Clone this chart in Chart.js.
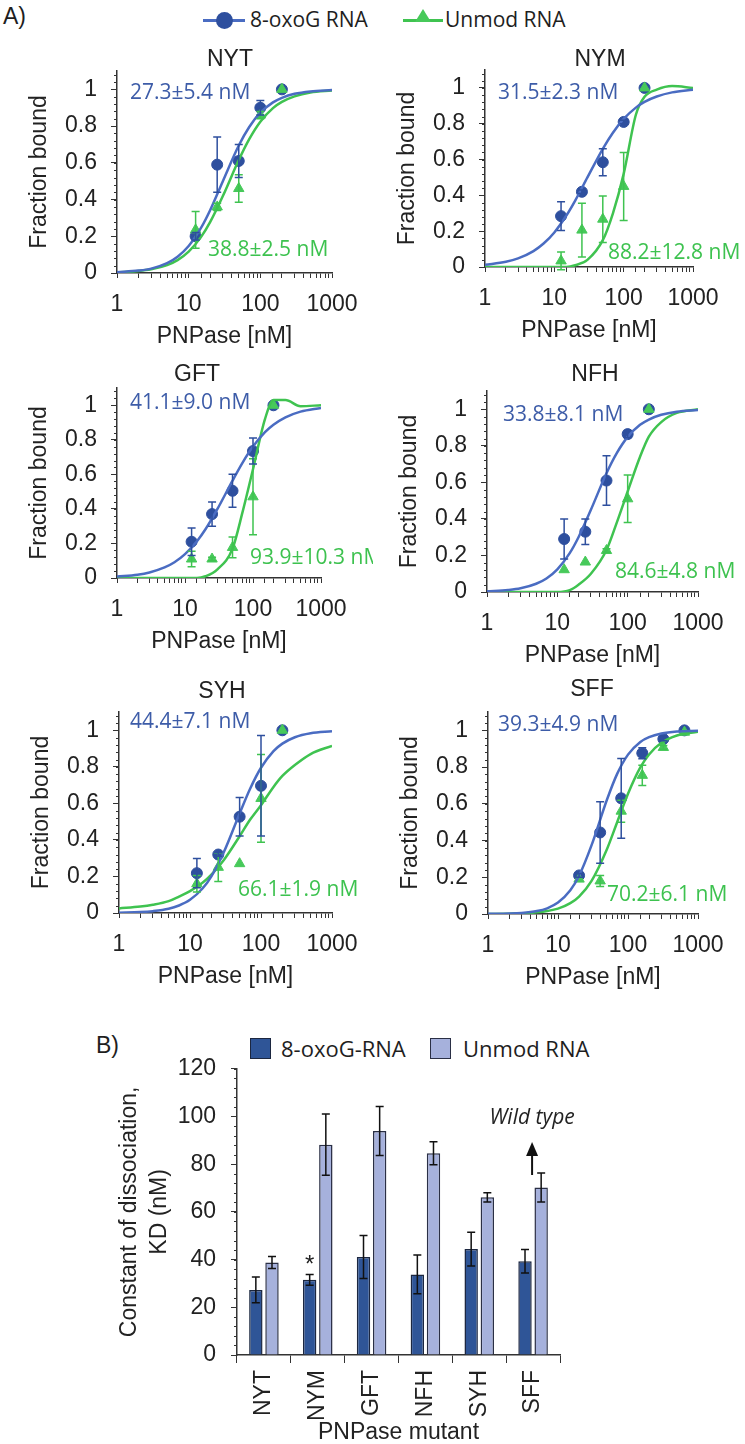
<!DOCTYPE html>
<html>
<head>
<meta charset="utf-8">
<script src="https://cdn.jsdelivr.net/npm/chart.js@4.4.1/dist/chart.umd.min.js"></script>
<style>
  body { margin: 0; width: 745px; height: 1444px; position: relative; overflow: hidden; background: #fff;
         font-family: "Liberation Sans", Arial, sans-serif; color: #1e1e1e; }
  canvas { position: absolute; }
  .abs { position: absolute; white-space: nowrap; }
  .panel { font-size: 23px; }
  .leg { font-family: "Open Sans", sans-serif; font-size: 21px; line-height: 1; }
</style>
</head>
<body>
<div class="abs panel" style="left:3px;top:3px">A)</div>
<div class="abs panel" style="left:96px;top:1032px">B)</div>

<!-- shared legend of panel A -->
<div class="abs" style="left:203px;top:19px;width:42px;height:3px;background:#4a6cc2"></div>
<div class="abs" style="left:216px;top:12px;width:17px;height:17px;border-radius:50%;background:#2e4f9e"></div>
<div class="abs leg" style="left:250px;top:9px">8-oxoG RNA</div>
<div class="abs" style="left:403px;top:19px;width:40px;height:3px;background:#3fc350"></div>
<div class="abs" style="left:415px;top:9px;width:0;height:0;border-left:8px solid transparent;border-right:8px solid transparent;border-bottom:13px solid #47c95a"></div>
<div class="abs leg" style="left:445px;top:9px">Unmod RNA</div>

<!-- legend of panel B -->
<div class="abs" style="left:250px;top:1038px;width:19px;height:19px;background:#2f5597;border:1.5px solid #1c2740"></div>
<div class="abs leg" style="left:281px;top:1037px;font-size:22px">8-oxoG-RNA</div>
<div class="abs" style="left:430px;top:1038px;width:19px;height:19px;background:#a6b1dc;border:1.5px solid #2a2f45"></div>
<div class="abs leg" style="left:463px;top:1037px;font-size:22px">Unmod RNA</div>

<script>
// ---- data ----
const mutants = ["NYT", "NYM", "GFT", "NFH", "SYH", "SFF"];

// dissociation constants (nM) and their errors
const kdOxo = [27.3, 31.5, 41.1, 33.8, 44.4, 39.3];
const kdOxoErr = [5.4, 2.3, 9.0, 8.1, 7.1, 4.9];
const kdUnmod = [38.8, 88.2, 93.9, 84.6, 66.1, 70.2];
const kdUnmodErr = [2.5, 12.8, 10.3, 4.8, 1.9, 6.1];
const sigMarks = [1];          // mutants marked with *
const wildType = 5;            // SFF

// PNPase concentrations of the measured points (nM)
const conc = [12.5, 25, 50, 100, 200];
const concSFF = [20, 40, 80, 160, 320, 640];

// measured fraction bound, mean and error
const oxoNYT = [0.20, 0.59, 0.61, 0.90, 1.00];
const oxoNYTerr = [0.02, 0.15, 0.09, 0.04, 0];
const unmodNYT = [0.235, 0.36, 0.46, 0.86, 1.00];
const unmodNYTerr = [0.10, 0.02, 0.075, 0.02, 0];

const oxoNYM = [0.284, 0.42, 0.585, 0.81, 1.00];
const oxoNYMerr = [0.08, 0.01, 0.075, 0.01, 0];
const unmodNYM = [0.034, 0.206, 0.267, 0.45, 1.00];
const unmodNYMerr = [0.05, 0.15, 0.13, 0.19, 0];

const oxoGFT = [0.21, 0.37, 0.505, 0.735, 1.00];
const oxoGFTerr = [0.08, 0.07, 0.095, 0.075, 0];
const unmodGFT = [0.11, 0.11, 0.177, 0.47, 1.00];
const unmodGFTerr = [0.045, 0.01, 0.06, 0.22, 0];

const oxoNFH = [0.29, 0.33, 0.61, 0.864, 1.00];
const oxoNFHerr = [0.11, 0.07, 0.135, 0.02, 0];
const unmodNFH = [0.122, 0.164, 0.227, 0.51, 1.00];
const unmodNFHerr = [0, 0, 0.01, 0.13, 0];

const oxoSYH = [0.218, 0.32, 0.527, 0.696, 1.00];
const oxoSYHerr = [0.08, 0.01, 0.105, 0.275, 0];
const unmodSYH = [0.16, 0.25, 0.27, 0.627, 1.00];
const unmodSYHerr = [0.045, 0.077, 0, 0.24, 0];

const oxoSFF = [0.21, 0.444, 0.63, 0.876, 0.953, 1.00];
const oxoSFFerr = [0.01, 0.167, 0.217, 0.03, 0.01, 0];
const unmodSFF = [0.19, 0.18, 0.56, 0.755, 0.907, 0.99];
const unmodSFFerr = [0, 0.03, 0.06, 0.055, 0.01, 0];

// fitted binding curves
const fitX = [1, 2, 3, 5, 7, 10, 15, 20, 30, 50, 70, 100, 150, 200, 300, 500, 1000];
const fitOxoNYT = [0.004, 0.013, 0.024, 0.054, 0.089, 0.147, 0.248, 0.343, 0.50, 0.694, 0.795, 0.873, 0.929, 0.954, 0.976, 0.989, 0.996];
const fitUnmodNYT = [0.004, 0.011, 0.020, 0.043, 0.070, 0.116, 0.198, 0.278, 0.419, 0.615, 0.729, 0.824, 0.898, 0.932, 0.962, 0.983, 0.994];
const fitOxoNYM = [0.012, 0.029, 0.048, 0.089, 0.131, 0.193, 0.289, 0.371, 0.50, 0.660, 0.750, 0.827, 0.890, 0.922, 0.952, 0.975, 0.990];
const fitUnmodNYM = [0, 0, 0, 0, 0, 0, 0, 0.01, 0.04, 0.15, 0.30, 0.52, 0.85, 0.95, 0.99, 1.01, 1.00];
const fitOxoGFT = [0.008, 0.019, 0.032, 0.061, 0.091, 0.138, 0.213, 0.282, 0.400, 0.564, 0.667, 0.761, 0.844, 0.887, 0.930, 0.963, 0.985];
const fitUnmodGFT = [0, 0, 0, 0, 0, 0, 0, 0.01, 0.05, 0.17, 0.38, 0.63, 0.92, 1.03, 1.03, 0.995, 1.00];
const fitOxoNFH = [0.004, 0.011, 0.020, 0.045, 0.074, 0.124, 0.213, 0.300, 0.450, 0.650, 0.760, 0.849, 0.915, 0.944, 0.970, 0.987, 0.996];
const fitUnmodNFH = [0, 0, 0, 0, 0, 0, 0.01, 0.04, 0.10, 0.23, 0.38, 0.55, 0.74, 0.85, 0.93, 0.98, 1.00];
const fitOxoSYH = [0.002, 0.005, 0.010, 0.023, 0.041, 0.072, 0.134, 0.201, 0.334, 0.545, 0.679, 0.795, 0.886, 0.927, 0.962, 0.984, 0.995];
const fitUnmodSYH = [0.025, 0.035, 0.045, 0.065, 0.09, 0.12, 0.165, 0.21, 0.29, 0.42, 0.51, 0.59, 0.69, 0.75, 0.81, 0.87, 0.915];
const fitOxoSFF = [0.001, 0.003, 0.006, 0.016, 0.031, 0.062, 0.129, 0.208, 0.372, 0.622, 0.763, 0.868, 0.937, 0.963, 0.983, 0.994, 0.998];
const fitUnmodSFF = [0, 0.002, 0.003, 0.009, 0.016, 0.029, 0.059, 0.095, 0.179, 0.353, 0.50, 0.655, 0.798, 0.869, 0.932, 0.972, 0.992];

const xTickLabels = [1, 10, 100, 1000];
const yTickStep = 0.2;
const barTickStep = 20;

// grouped per panel
const concs = [conc, conc, conc, conc, conc, concSFF];
const oxoMeans = [oxoNYT, oxoNYM, oxoGFT, oxoNFH, oxoSYH, oxoSFF];
const oxoErrs = [oxoNYTerr, oxoNYMerr, oxoGFTerr, oxoNFHerr, oxoSYHerr, oxoSFFerr];
const unmodMeans = [unmodNYT, unmodNYM, unmodGFT, unmodNFH, unmodSYH, unmodSFF];
const unmodErrs = [unmodNYTerr, unmodNYMerr, unmodGFTerr, unmodNFHerr, unmodSYHerr, unmodSFFerr];
const fitsOxo = [fitOxoNYT, fitOxoNYM, fitOxoGFT, fitOxoNFH, fitOxoSYH, fitOxoSFF];
const fitsUnmod = [fitUnmodNYT, fitUnmodNYM, fitUnmodGFT, fitUnmodNFH, fitUnmodSYH, fitUnmodSFF];

// ---- layout ----
const BLUE_LINE = "#4a6cc2", BLUE_MARK = "#2e4f9e", BLUE_TEXT = "#3d5ca8";
const GREEN_LINE = "#3fc350", GREEN_MARK = "#47c95a", GREEN_TEXT = "#3dc24f";
const AXIS = "#333";

// plot areas of the six small charts (page px): x=1..1000, y=1 and y=0 lines
const boxes = [
  { left: 117, right: 332, y1: 89, y0: 273 },
  { left: 485, right: 693, y1: 88, y0: 267 },
  { left: 117, right: 321, y1: 405, y0: 578 },
  { left: 487, right: 698, y1: 409, y0: 592 },
  { left: 119, right: 332, y1: 730, y0: 913 },
  { left: 488, right: 698, y1: 730, y0: 914 },
];
// panel titles and Kd label anchors (page px)
const titlePos = [[230, 60], [600, 60], [197, 375], [595, 375], [222, 692], [592, 690]];
const oxoLabelPos = [[130, 93], [498, 93], [130, 403], [503, 415], [130, 722], [498, 725]];
const unmodLabelPos = [[208, 250], [608, 253], [250, 558], [615, 572], [238, 890], [607, 895]];

const Y_W = 91, X_H = 77, TOP_PAD = 45, PAD_R = 52;

Chart.defaults.font.family = "'Liberation Sans', Arial, sans-serif";
Chart.defaults.color = "#222";

// ---- plugins ----
const errorBars = {
  id: "errorBars",
  afterDatasetsDraw(chart, args, opts) {
    const ctx = chart.ctx, y = chart.scales.y;
    chart.data.datasets.forEach((ds, i) => {
      if (!ds.errors) return;
      const meta = chart.getDatasetMeta(i);
      ctx.save();
      ctx.strokeStyle = ds.errorColor;
      ctx.lineWidth = opts.width;
      meta.data.forEach((el, j) => {
        const e = ds.errors[j];
        if (!e) return;
        const raw = ds.data[j];
        const v = typeof raw === "object" ? raw.y : raw;
        const top = y.getPixelForValue(v + e), bot = y.getPixelForValue(v - e);
        const x = el.x, c = opts.cap;
        ctx.beginPath();
        ctx.moveTo(x, top); ctx.lineTo(x, bot);
        ctx.moveTo(x - c, top); ctx.lineTo(x + c, top);
        ctx.moveTo(x - c, bot); ctx.lineTo(x + c, bot);
        ctx.stroke();
      });
      ctx.restore();
    });
  }
};

const minorTicks = {
  id: "minorTicks",
  afterDraw(chart, args, opts) {
    const y = chart.scales.y, ctx = chart.ctx;
    ctx.save();
    ctx.strokeStyle = AXIS;
    ctx.lineWidth = 1;
    for (let v = y.min; v <= y.max + 1e-9; v += opts.step) {
      const p = Math.round(y.getPixelForValue(v)) + 0.5;
      ctx.beginPath();
      ctx.moveTo(y.right - opts.len, p);
      ctx.lineTo(y.right, p);
      ctx.stroke();
    }
    ctx.restore();
  }
};

// panel title and the two Kd values
const panelText = {
  id: "panelText",
  afterDraw(chart, args, opts) {
    const ctx = chart.ctx;
    ctx.save();
    ctx.textBaseline = "middle";
    ctx.font = "23px 'Liberation Sans', Arial, sans-serif";
    ctx.textAlign = "center";
    ctx.fillStyle = "#222";
    ctx.fillText(opts.title.text, opts.title.x, opts.title.y);
    ctx.font = "21px 'Open Sans', sans-serif";
    ctx.textAlign = "left";
    opts.items.forEach(it => {
      ctx.fillStyle = it.color;
      ctx.fillText(it.text, it.x, it.y);
    });
    ctx.restore();
  }
};

const fmtKd = (v, e) => `${v.toFixed(1)}±${e.toFixed(1)} nM`;
const toXY = (xs, ys) => xs.map((x, k) => ({ x: x, y: ys[k] }));

// ---- panel A: six binding curves ----
mutants.forEach((name, i) => {
  const b = boxes[i];
  const areaTop = Math.round(b.y0 - 1.1 * (b.y0 - b.y1));
  const cLeft = b.left - Y_W, cTop = areaTop - TOP_PAD;
  const w = b.right - b.left + Y_W + PAD_R;
  const h = TOP_PAD + (b.y0 - areaTop) + X_H;

  const cv = document.createElement("canvas");
  cv.width = w; cv.height = h;
  cv.style.left = cLeft + "px"; cv.style.top = cTop + "px";
  document.body.appendChild(cv);

  new Chart(cv, {
    type: "line",
    data: {
      datasets: [
        {
          data: toXY(fitX, fitsOxo[i]),
          borderColor: BLUE_LINE, borderWidth: 2.5, pointRadius: 0,
          cubicInterpolationMode: "monotone",
        },
        {
          data: toXY(fitX, fitsUnmod[i]),
          borderColor: GREEN_LINE, borderWidth: 2.5, pointRadius: 0,
          cubicInterpolationMode: "monotone",
        },
        {
          data: toXY(concs[i], unmodMeans[i]),
          errors: unmodErrs[i], errorColor: GREEN_LINE,
          showLine: false, pointStyle: "triangle", pointRadius: 6,
          backgroundColor: GREEN_MARK, borderColor: GREEN_MARK,
        },
        {
          data: toXY(concs[i], oxoMeans[i]),
          errors: oxoErrs[i], errorColor: BLUE_MARK,
          showLine: false, pointStyle: "circle", pointRadius: 5.5,
          backgroundColor: BLUE_MARK, borderColor: BLUE_MARK,
        },
      ],
    },
    options: {
      responsive: false,
      animation: false,
      layout: { padding: { left: 0, right: PAD_R, top: TOP_PAD, bottom: 0 } },
      plugins: {
        legend: { display: false },
        tooltip: { enabled: false },
        errorBars: { width: 1.5, cap: 4 },
        minorTicks: { step: 0.04, len: 3 },
        panelText: {
          title: { text: name, x: titlePos[i][0] - cLeft, y: titlePos[i][1] - cTop },
          items: [
            { text: fmtKd(kdOxo[i], kdOxoErr[i]), color: BLUE_TEXT,
              x: oxoLabelPos[i][0] - cLeft, y: oxoLabelPos[i][1] - cTop },
            { text: fmtKd(kdUnmod[i], kdUnmodErr[i]), color: GREEN_TEXT,
              x: unmodLabelPos[i][0] - cLeft, y: unmodLabelPos[i][1] - cTop },
          ],
        },
      },
      scales: {
        x: {
          type: "logarithmic", min: 1, max: 1000,
          afterFit: s => { s.height = X_H; },
          grid: { drawOnChartArea: false, tickLength: 5, color: AXIS },
          border: { color: AXIS, width: 1.5 },
          ticks: {
            autoSkip: false, maxRotation: 0, padding: 13,
            font: { size: 23 },
            callback: v => {
              const r = Math.round(v);
              return Math.abs(v - r) < 1e-6 && xTickLabels.includes(r) ? String(r) : "";
            },
          },
          title: { display: true, text: "PNPase [nM]", font: { size: 23 }, padding: 0 },
        },
        y: {
          min: 0, max: 1.1,
          afterFit: s => { s.width = Y_W; },
          grid: { drawOnChartArea: false, tickLength: 6, color: AXIS },
          border: { color: AXIS, width: 1.5 },
          ticks: {
            stepSize: yTickStep, includeBounds: false, padding: 14,
            font: { size: 23 },
            callback: v => String(+v.toFixed(1)),
          },
          title: { display: true, text: "Fraction bound", font: { size: 23 }, padding: 0 },
        },
      },
    },
    plugins: [errorBars, minorTicks, panelText],
  });
});

// ---- panel B: Kd bar chart ----
const barArea = { left: 237, right: 560, top: 1060, bottom: 1355 };
const BY_W = 122, BX_H = 91, B_TOP = 20, B_RIGHT = 25;

const barMarks = {
  id: "barMarks",
  afterDraw(chart) {
    const ctx = chart.ctx, x = chart.scales.x, y = chart.scales.y;
    const oy = barArea.top - B_TOP;
    ctx.save();
    ctx.fillStyle = "#222";
    ctx.font = "24px 'Liberation Sans', sans-serif";
    ctx.textAlign = "center";
    ctx.textBaseline = "middle";
    const dark = chart.getDatasetMeta(0).data;
    sigMarks.forEach(k => {
      ctx.fillText("*", dark[k].x, y.getPixelForValue(kdOxo[k] + kdOxoErr[k]) - 9);
    });
    // wild type arrow
    const cx = x.getPixelForValue(wildType) - 1;
    ctx.strokeStyle = "#111";
    ctx.lineWidth = 2;
    ctx.beginPath();
    ctx.moveTo(cx, 1175 - oy);
    ctx.lineTo(cx, 1152 - oy);
    ctx.stroke();
    ctx.beginPath();
    ctx.moveTo(cx, 1142 - oy);
    ctx.lineTo(cx - 6, 1156 - oy);
    ctx.lineTo(cx + 6, 1156 - oy);
    ctx.closePath();
    ctx.fillStyle = "#111";
    ctx.fill();
    ctx.font = "italic 21px 'Open Sans', sans-serif";
    ctx.fillStyle = "#222";
    ctx.fillText("Wild type", cx, 1118 - oy);
    ctx.restore();
  }
};

const bc = document.createElement("canvas");
bc.width = barArea.right - barArea.left + BY_W + B_RIGHT;
bc.height = B_TOP + (barArea.bottom - barArea.top) + BX_H;
bc.style.left = (barArea.left - BY_W) + "px";
bc.style.top = (barArea.top - B_TOP) + "px";
document.body.appendChild(bc);

new Chart(bc, {
  type: "bar",
  data: {
    labels: mutants,
    datasets: [
      {
        label: "8-oxoG-RNA", data: kdOxo, errors: kdOxoErr, errorColor: "#111",
        backgroundColor: "#2f5597", borderColor: "#1c2740", borderWidth: 1.5,
        barPercentage: 0.83, categoryPercentage: 0.6,
      },
      {
        label: "Unmod RNA", data: kdUnmod, errors: kdUnmodErr, errorColor: "#111",
        backgroundColor: "#a6b1dc", borderColor: "#2a2f45", borderWidth: 1.5,
        barPercentage: 0.83, categoryPercentage: 0.6,
      },
    ],
  },
  options: {
    responsive: false,
    animation: false,
    layout: { padding: { left: 0, right: B_RIGHT, top: B_TOP, bottom: 0 } },
    plugins: {
      legend: { display: false },
      tooltip: { enabled: false },
      errorBars: { width: 1.5, cap: 4 },
      minorTicks: { step: 4, len: 3 },
    },
    scales: {
      x: {
        afterFit: s => { s.height = BX_H; },
        grid: { drawOnChartArea: false, offset: true, tickLength: 8, color: AXIS },
        border: { color: AXIS, width: 1.5 },
        ticks: { minRotation: 90, maxRotation: 90, padding: 7, font: { size: 23 } },
        title: { display: true, text: "PNPase mutant", font: { size: 23 }, padding: 0 },
      },
      y: {
        min: 0, max: 120,
        afterFit: s => { s.width = BY_W; },
        grid: { drawOnChartArea: false, tickLength: 6, color: AXIS },
        border: { color: AXIS, width: 1.5 },
        ticks: { stepSize: barTickStep, padding: 15, font: { size: 23 } },
        title: {
          display: true, text: ["Constant of dissociation,", "KD (nM)"],
          font: { size: 23, lineHeight: 1.3 }, padding: 0,
        },
      },
    },
  },
  plugins: [errorBars, minorTicks, barMarks],
});
</script>
</body>
</html>
